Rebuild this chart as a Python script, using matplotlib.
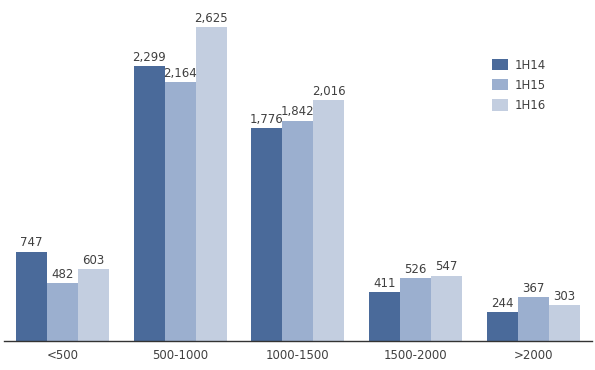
import numpy as np
import matplotlib.pyplot as plt
from matplotlib.patches import Patch

categories = ['<500', '500-1000', '1000-1500', '1500-2000', '>2000']
series_names = ['1H14', '1H15', '1H16']
h14 = [747, 2299, 1776, 411, 244]
h15 = [482, 2164, 1842, 526, 367]
h16 = [603, 2625, 2016, 547, 303]
colors = ['#4a6a9a', '#9bafcf', '#c3cee0']

plt.rcParams['font.family'] = ['DejaVu Sans']
txt = '#404040'

fig = plt.figure(figsize=(5.95, 3.7), dpi=100)
ax = fig.add_axes([3.65 / 595, 29 / 370, 588.5 / 595, 341 / 370])

x = np.arange(len(categories))
w = 0.263
for k, (vals, c) in enumerate(zip([h14, h15, h16], colors)):
    pos = x + (k - 1) * w
    ax.bar(pos, vals, width=w, color=c, linewidth=0)
    for p, v in zip(pos, vals):
        ax.text(p, v + 18, f'{v:,}', ha='center', va='bottom', fontsize=8.5, color=txt)

ax.set_xlim(-0.5, 4.5)
ax.set_ylim(0, 2849)
ax.set_xticks(x)
ax.set_xticklabels(categories, fontsize=8.5, color=txt)
ax.tick_params(axis='x', length=0, pad=6)
ax.set_yticks([])
for s in ['top', 'right', 'left']:
    ax.spines[s].set_visible(False)
ax.spines['bottom'].set_color('#333333')
ax.spines['bottom'].set_linewidth(1.0)

# legend top right, matching swatch positions
handles = [Patch(facecolor=c, edgecolor='none') for c in colors]
leg = ax.legend(handles, series_names, loc='upper left', bbox_to_anchor=(484 / 588.5, 1 - 54 / 341),
                frameon=False, fontsize=8.5, handlelength=1.3, handleheight=1.1,
                labelspacing=0.6, handletextpad=0.6, borderaxespad=0)
for t in leg.get_texts():
    t.set_color(txt)

fig.savefig('out.png', dpi=100)
